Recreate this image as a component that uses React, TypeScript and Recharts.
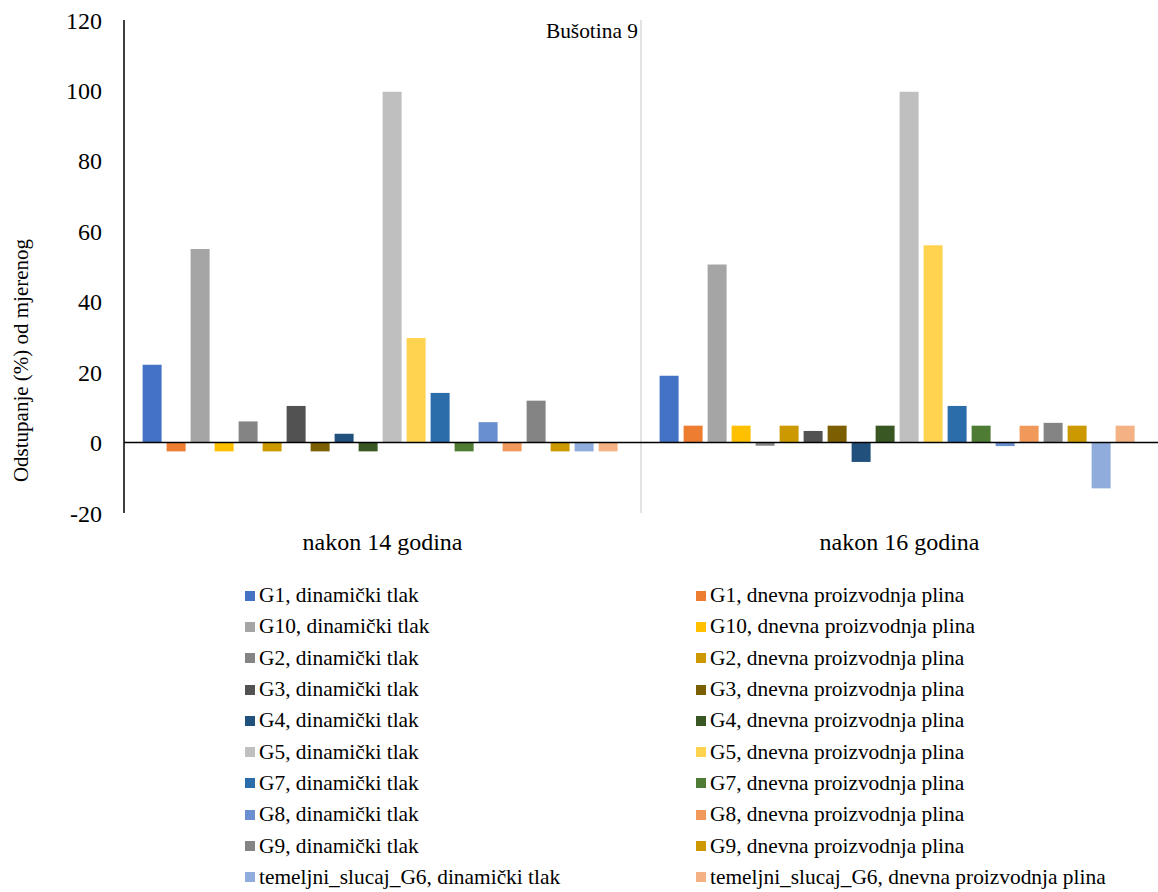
import React from 'react'
import { BarChart, Bar, XAxis, YAxis, CartesianGrid, Legend, ReferenceLine } from 'recharts'

const categories = ['nakon 14 godina', 'nakon 16 godina']
const yTicks = [-20, 0, 20, 40, 60, 80, 100, 120]

// values in % per category (14 god, 16 god)
const g1Dinamicki = [22.1, 19.0]
const g1Dnevna = [-2.5, 4.8]
const g10Dinamicki = [55.0, 50.6]
const g10Dnevna = [-2.5, 4.8]
const g2Dinamicki = [6.0, -0.9]
const g2Dnevna = [-2.5, 4.8]
const g3Dinamicki = [10.4, 3.3]
const g3Dnevna = [-2.5, 4.8]
const g4Dinamicki = [2.5, -5.5]
const g4Dnevna = [-2.5, 4.8]
const g5Dinamicki = [99.6, 99.6]
const g5Dnevna = [29.7, 56.0]
const g7Dinamicki = [14.1, 10.4]
const g7Dnevna = [-2.5, 4.8]
const g8Dinamicki = [5.8, -1.0]
const g8Dnevna = [-2.5, 4.8]
const g9Dinamicki = [11.9, 5.6]
const g9Dnevna = [-2.5, 4.8]
const temeljniDinamicki = [-2.5, -13.0]
const temeljniDnevna = [-2.5, 4.8]

const series = [
  { name: 'G1, dinamički tlak', values: g1Dinamicki, color: '#4472C4' },
  { name: 'G1, dnevna proizvodnja plina', values: g1Dnevna, color: '#ED7D31' },
  { name: 'G10, dinamički tlak', values: g10Dinamicki, color: '#A5A5A5' },
  { name: 'G10, dnevna proizvodnja plina', values: g10Dnevna, color: '#FFC000' },
  { name: 'G2, dinamički tlak', values: g2Dinamicki, color: '#848484' },
  { name: 'G2, dnevna proizvodnja plina', values: g2Dnevna, color: '#CC9A00' },
  { name: 'G3, dinamički tlak', values: g3Dinamicki, color: '#525252' },
  { name: 'G3, dnevna proizvodnja plina', values: g3Dnevna, color: '#7C5F00' },
  { name: 'G4, dinamički tlak', values: g4Dinamicki, color: '#22507C' },
  { name: 'G4, dnevna proizvodnja plina', values: g4Dnevna, color: '#385723' },
  { name: 'G5, dinamički tlak', values: g5Dinamicki, color: '#BFBFBF' },
  { name: 'G5, dnevna proizvodnja plina', values: g5Dnevna, color: '#FFD34F' },
  { name: 'G7, dinamički tlak', values: g7Dinamicki, color: '#2B6CAA' },
  { name: 'G7, dnevna proizvodnja plina', values: g7Dnevna, color: '#4F7C34' },
  { name: 'G8, dinamički tlak', values: g8Dinamicki, color: '#6A8FD1' },
  { name: 'G8, dnevna proizvodnja plina', values: g8Dnevna, color: '#F1995B' },
  { name: 'G9, dinamički tlak', values: g9Dinamicki, color: '#848484' },
  { name: 'G9, dnevna proizvodnja plina', values: g9Dnevna, color: '#CC9A00' },
  { name: 'temeljni_slucaj_G6, dinamički tlak', values: temeljniDinamicki, color: '#8FACDC' },
  { name: 'temeljni_slucaj_G6, dnevna proizvodnja plina', values: temeljniDnevna, color: '#F4B183' },
]

const data = categories.map((c, i) => {
  const row: Record<string, any> = { name: c }
  series.forEach((s, k) => { row['s' + k] = s.values[i] })
  return row
})

const font = "'Liberation Serif', 'Times New Roman', serif"

const renderLegend = (props: any) => {
  const { payload } = props
  return (
    <div style={{ display: 'grid', gridTemplateColumns: '451px 451px', paddingLeft: 245, fontFamily: font, fontSize: 21.4, color: '#000' }}>
      {(payload || []).map((p: any, i: number) => (
        <div key={i} style={{ height: 31.3, display: 'flex', alignItems: 'center', whiteSpace: 'nowrap' }}>
          <span style={{ width: 10, height: 10, background: p.color, marginRight: 4, display: 'inline-block' }} />
          <span>{p.value}</span>
        </div>
      ))}
    </div>
  )
}

const yLabel = (props: any) => {
  const { viewBox } = props
  const x = viewBox.x + 21
  const y = viewBox.y + viewBox.height / 2 + 94
  return (
    <text x={x} y={y} transform={`rotate(-90 ${x} ${y})`} textAnchor="middle" dominantBaseline="central"
      style={{ fontFamily: font, fontSize: 21, fill: '#000' }}>
      Odstupanje (%) od mjerenog
    </text>
  )
}

export default function App() {
  return (
    <div style={{ position: 'absolute', left: 0, top: 0, width: 1158, height: 892, background: '#fff' }}>
      <div style={{ position: 'absolute', right: 1158 - 638, top: 19, fontFamily: font, fontSize: 21.4, color: '#000' }}>
        Bušotina 9
      </div>
      <BarChart width={1158} height={892} data={data} margin={{ top: 20, right: 0, left: 0, bottom: 0 }}
        barCategoryGap="3.6%" barGap={5}>
        <CartesianGrid horizontal={false} vertical stroke="#D9D9D9" strokeWidth={1.5}
          verticalCoordinatesGenerator={({ offset }: any) => [offset.left + offset.width / 2]} />
        <XAxis dataKey="name" height={379} axisLine={false} tickLine={false} tickSize={0} tickMargin={20}
          tick={{ fontFamily: font, fontSize: 24, fill: '#000' }} />
        <YAxis width={124} domain={[-20, 120]} ticks={yTicks} interval={0} tickLine={false} tickSize={0} tickMargin={22}
          axisLine={{ stroke: '#000', strokeWidth: 1.5 }}
          tick={{ fontFamily: font, fontSize: 24, fill: '#000' }}
          label={{ content: yLabel }} />
        {series.map((s, k) => (
          <Bar key={k} dataKey={'s' + k} name={s.name} fill={s.color} isAnimationActive={false} />
        ))}
        <ReferenceLine y={0} stroke="#000" strokeWidth={1.5} />
        <Legend layout="horizontal" verticalAlign="middle" align="center" content={renderLegend}
          wrapperStyle={{ top: 580, left: 0, width: 1158 }} />
      </BarChart>
    </div>
  )
}
